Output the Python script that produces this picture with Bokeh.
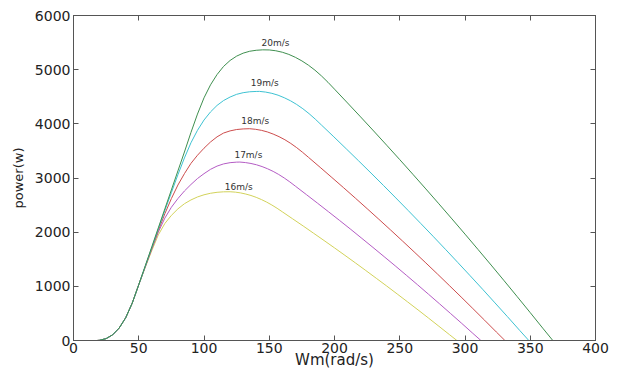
from bokeh.plotting import figure
from bokeh.models import Range1d, LinearAxis, FixedTicker, ColumnDataSource, CustomJSTickFormatter
from bokeh.core.properties import value
from bokeh.embed import file_html
from bokeh.resources import INLINE

# ---- data ----
x_ticks = [0, 50, 100, 150, 200, 250, 300, 350, 400]
y_ticks = [0, 1000, 2000, 3000, 4000, 5000, 6000]

x16 = [0, 10, 18, 20, 25, 30, 35, 40, 45, 50, 55, 60, 65, 70, 75, 80, 85, 90, 95, 100, 105, 110, 115,
       120, 124, 128, 132, 136, 140, 144, 148, 152, 156, 160, 168, 176, 184, 192, 200, 208, 216, 224,
       232, 240, 248, 256, 264, 272, 280, 288, 293.8]
p16 = [0, 0, 0, 4, 35, 105, 230, 420, 690, 1030, 1350, 1660, 1950, 2160, 2310, 2430, 2525, 2595, 2650, 2690, 2718, 2736, 2745,
       2746, 2739, 2725, 2704, 2677, 2643, 2602, 2555, 2501, 2441, 2376, 2245, 2114, 1980, 1846, 1710, 1572, 1433, 1292,
       1149, 1006, 860, 713, 565, 415, 263, 110, 0]

x17 = [0, 10, 18, 20, 25, 30, 35, 40, 45, 50, 55, 60, 65, 70, 75, 80, 85, 90, 95, 100, 105, 110, 115, 120, 125,
       127.5, 131.75, 136, 140.25, 144.5, 148.75, 153, 157.25, 161.5, 165.75, 170, 178.5, 187, 195.5, 204, 212.5, 221,
       229.5, 238, 246.5, 255, 263.5, 272, 280.5, 289, 297.5, 306, 312.2]
p17 = [0, 0, 0, 4, 35, 105, 230, 420, 690, 1030, 1360, 1690, 2000, 2260, 2460, 2620, 2760, 2880, 2990, 3080, 3160, 3220, 3260, 3283, 3293,
       3294, 3285, 3268, 3244, 3211, 3170, 3122, 3065, 3000, 2928, 2850, 2693, 2535, 2375, 2214, 2051, 1885,
       1718, 1549, 1379, 1206, 1032, 855, 677, 497, 316, 132, 0]

x18 = [0, 10, 18, 20, 25, 30, 35, 40, 45, 50, 55, 60, 65, 70, 75, 80, 85, 90, 95, 100, 105, 110, 115, 120, 125, 130,
       135, 139.5, 144, 148.5, 153, 157.5, 162, 166.5, 171, 175.5, 180, 189, 198, 207, 216, 225, 234,
       243, 252, 261, 270, 279, 288, 297, 306, 315, 324, 330.6]
p18 = [0, 0, 0, 4, 35, 105, 230, 420, 690, 1030, 1365, 1700, 2030, 2340, 2620, 2870, 3080, 3270, 3420, 3550, 3665, 3760, 3830, 3870, 3895, 3906,
       3910, 3899, 3880, 3851, 3811, 3763, 3706, 3638, 3561, 3475, 3383, 3197, 3009, 2820, 2628, 2434, 2238,
       2040, 1839, 1637, 1432, 1225, 1015, 804, 590, 375, 157, 0]

x19 = [0, 10, 18, 20, 25, 30, 35, 40, 45, 50, 55, 60, 65, 70, 75, 80, 85, 90, 95, 100, 105, 110, 115, 120, 125, 130, 135, 140,
       142.5, 147.25, 152, 156.75, 161.5, 166.25, 171, 175.75, 180.5, 185.25, 190, 199.5, 209, 218.5, 228, 237.5, 247,
       256.5, 266, 275.5, 285, 294.5, 304, 313.5, 323, 332.5, 342, 348.9]
p19 = [0, 0, 0, 4, 35, 105, 230, 420, 690, 1030, 1370, 1715, 2060, 2400, 2730, 3060, 3370, 3650, 3880, 4070, 4220, 4340, 4430, 4495, 4545, 4575, 4592, 4598,
       4599, 4586, 4563, 4529, 4482, 4426, 4358, 4279, 4188, 4087, 3978, 3760, 3539, 3316, 3091, 2863, 2632,
       2399, 2163, 1925, 1684, 1440, 1194, 946, 694, 441, 184, 0]

x20 = [0, 10, 18, 20, 25, 30, 35, 40, 45, 50, 55, 60, 65, 70, 75, 80, 85, 90, 95, 100, 105, 110, 115, 120, 125, 130, 135, 140, 145,
       150, 155, 160, 165, 170, 175, 180, 185, 190, 195, 200, 210, 220, 230, 240, 250, 260, 270, 280, 290, 300, 310,
       320, 330, 340, 350, 360, 367.3]
p20 = [0, 0, 0, 4, 35, 105, 230, 420, 690, 1030, 1380, 1730, 2080, 2430, 2780, 3130, 3480, 3840, 4180, 4480, 4720, 4910, 5060, 5170, 5250, 5305, 5340, 5358, 5366,
       5364, 5349, 5322, 5282, 5228, 5162, 5083, 4991, 4885, 4767, 4640, 4385, 4128, 3868, 3605, 3339, 3070, 2798, 2523, 2245, 1964, 1680,
       1393, 1103, 810, 514, 215, 0]

label_text = ["16m/s", "17m/s", "18m/s", "19m/s", "20m/s"]
label_x = [126.7, 134, 139.2, 146.5, 154.8]
label_y = [2843, 3428, 4055, 4745, 5490]

series = [(x16, p16, "#d2d25a"), (x17, p17, "#b45cc4"), (x18, p18, "#cc4c4c"),
          (x19, p19, "#3ec2d2"), (x20, p20, "#3f8f4f")]

FONT = "DejaVu Sans"

p = figure(width=618, height=371, output_backend="svg", toolbar_location=None,
           x_range=Range1d(0, 400), y_range=Range1d(0, 6000),
           min_border_left=73, min_border_right=23, min_border_top=15, min_border_bottom=31)
p.background_fill_color = "white"
p.border_fill_color = "white"
p.outline_line_color = "#555555"
p.grid.visible = False

for xs, ys, col in series:
    p.line(xs, ys, line_color=col, line_width=1)

src = ColumnDataSource(dict(x=label_x, y=label_y, t=label_text))
p.text(x="x", y="y", text="t", source=src, text_align="center", text_baseline="middle",
       text_font=value(FONT), text_font_size="9px", text_color="#333333")

def style(ax):
    ax.major_tick_in = 5
    ax.major_tick_out = 0
    ax.minor_tick_in = 0
    ax.minor_tick_out = 0
    ax.axis_line_color = "#555555"
    ax.major_tick_line_color = "#555555"
    ax.major_label_text_font = FONT
    ax.major_label_text_color = "#222222"
    ax.major_label_text_font_size = "14px"

p.xaxis.ticker = FixedTicker(ticks=x_ticks)
p.yaxis.ticker = FixedTicker(ticks=y_ticks)
style(p.xaxis[0])
style(p.yaxis[0])
p.xaxis.major_label_standoff = 2
p.yaxis.major_label_standoff = 3
p.xaxis.axis_label = "Wm(rad/s)"
p.xaxis.axis_label_text_font = FONT
p.xaxis.axis_label_text_font_size = "15px"
p.xaxis.axis_label_text_font_style = "normal"
p.xaxis.axis_label_text_color = "#222222"
p.xaxis.axis_label_standoff = -5
p.yaxis.axis_label = "power(w)"
p.yaxis.axis_label_text_font = FONT
p.yaxis.axis_label_text_font_size = "13px"
p.yaxis.axis_label_text_font_style = "normal"
p.yaxis.axis_label_text_color = "#222222"
p.yaxis.axis_label_standoff = 6

blank = CustomJSTickFormatter(code="return '';")
top = LinearAxis(ticker=FixedTicker(ticks=x_ticks), formatter=blank)
style(top)
top.major_label_standoff = 0
p.add_layout(top, "above")
right = LinearAxis(ticker=FixedTicker(ticks=y_ticks), formatter=blank)
style(right)
right.major_label_standoff = 0
p.add_layout(right, "right")

open("out.html", "w").write(file_html(p, INLINE))
